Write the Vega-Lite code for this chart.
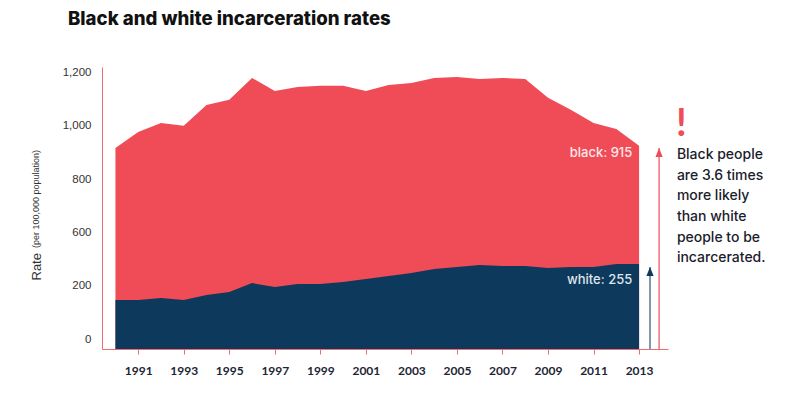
{
  "$schema": "https://vega.github.io/schema/vega-lite/v6.json",
  "autosize": {"type": "none"},
  "width": 566,
  "height": 282,
  "padding": {"left": 102, "top": 67, "right": 122, "bottom": 47},
  "background": "white",
  "config": {"view": {"stroke": null}, "font": "Lato"},
  "title": {
    "text": "Black and white incarceration rates",
    "anchor": "start",
    "frame": "group",
    "dx": -34,
    "offset": 38,
    "font": "Inter",
    "fontSize": 18.6,
    "fontWeight": 800,
    "color": "#111111"
  },
  "datasets": {
    "rates": [
      {"year": 1990, "black": 905, "white": 221},
      {"year": 1991, "black": 977, "white": 221},
      {"year": 1992, "black": 1018, "white": 230},
      {"year": 1993, "black": 1005, "white": 221},
      {"year": 1994, "black": 1099, "white": 243},
      {"year": 1995, "black": 1122, "white": 257},
      {"year": 1996, "black": 1221, "white": 297},
      {"year": 1997, "black": 1162, "white": 279},
      {"year": 1998, "black": 1180, "white": 293},
      {"year": 1999, "black": 1185, "white": 293},
      {"year": 2000, "black": 1185, "white": 302},
      {"year": 2001, "black": 1162, "white": 315},
      {"year": 2002, "black": 1189, "white": 329},
      {"year": 2003, "black": 1198, "white": 342},
      {"year": 2004, "black": 1221, "white": 360},
      {"year": 2005, "black": 1225, "white": 369},
      {"year": 2006, "black": 1216, "white": 378},
      {"year": 2007, "black": 1221, "white": 374},
      {"year": 2008, "black": 1216, "white": 374},
      {"year": 2009, "black": 1131, "white": 365},
      {"year": 2010, "black": 1077, "white": 369},
      {"year": 2011, "black": 1018, "white": 369},
      {"year": 2012, "black": 991, "white": 383},
      {"year": 2013, "black": 915, "white": 383}
    ],
    "arrows": [
      {"year": 2013.48, "value": 369, "group": "white"},
      {"year": 2013.88, "value": 905, "group": "black"}
    ],
    "labels": [
      {"year": 2012.7, "value": 883, "label": "black: 915", "series": "black"},
      {"year": 2012.7, "value": 311, "label": "white: 255", "series": "white"}
    ],
    "note": [
      {"year": 2014.66, "value": 856, "text": "Black people\nare 3.6 times\nmore likely\nthan white\npeople to be\nincarcerated."}
    ],
    "bang": [
      {"year": 2014.86, "value": 959, "text": "!"}
    ],
    "ytitle": [
      {"year": 1986.64, "value": 455, "text": "(per 100,000 population)"}
    ]
  },
  "layer": [
    {
      "data": {"name": "rates"},
      "mark": {"type": "area", "color": "#ef4c57", "opacity": 1},
      "encoding": {
        "x": {
          "field": "year", "type": "quantitative",
          "scale": {"domain": [1989.41, 2014.27], "nice": false, "zero": false},
          "axis": {
            "values": [1991, 1993, 1995, 1997, 1999, 2001, 2003, 2005, 2007, 2009, 2011, 2013],
            "format": "d",
            "grid": false,
            "domainColor": "#f06a72",
            "tickColor": "#f06a72",
            "tickSize": 5,
            "labelFont": "Lato",
            "labelFontSize": 12,
            "labelFontWeight": "bold",
            "labelColor": "#1d2535",
            "labelPadding": 11,
            "labelFlush": false,
            "title": null
          }
        },
        "y": {
          "field": "black", "type": "quantitative",
          "scale": {"domain": [0, 1270], "nice": false},
          "axis": {
            "values": [0, 240, 480, 720, 960, 1200],
            "labelExpr": "datum.value==0?'0':datum.value==240?'200':datum.value==480?'600':datum.value==720?'800':datum.value==960?'1,000':'1,200'",
            "ticks": false,
            "grid": false,
            "domainColor": "#f06a72",
            "labelFont": "Liberation Sans",
            "labelFontSize": 11.5,
            "labelColor": "#333333",
            "labelPadding": 11,
            "labelOffset": -10,
            "title": "Rate",
            "titleFont": "Liberation Sans",
            "titleFontSize": 13,
            "titleFontWeight": "normal",
            "titleColor": "#333333",
            "titleAngle": -90,
            "titleAlign": "left",
            "titleBaseline": "alphabetic",
            "titleX": -62,
            "titleY": 213
          }
        }
      }
    },
    {
      "data": {"name": "rates"},
      "mark": {"type": "area", "color": "#0d3a5c", "opacity": 1},
      "encoding": {
        "x": {"field": "year", "type": "quantitative"},
        "y": {"field": "white", "type": "quantitative"}
      }
    },
    {
      "data": {"name": "arrows"},
      "mark": {"type": "rule", "strokeWidth": 1.5},
      "encoding": {
        "x": {"field": "year", "type": "quantitative"},
        "y": {"field": "value", "type": "quantitative"},
        "y2": {"datum": 0},
        "color": {"field": "group", "type": "nominal", "scale": {"domain": ["black", "white"], "range": ["#f0737b", "#5a7590"]}, "legend": null}
      }
    },
    {
      "data": {"name": "arrows"},
      "mark": {"type": "point", "shape": "M0,0L-0.8,2L0.8,2Z", "size": 81, "filled": true, "opacity": 1},
      "encoding": {
        "x": {"field": "year", "type": "quantitative"},
        "y": {"field": "value", "type": "quantitative"},
        "fill": {"field": "group", "type": "nominal", "scale": {"domain": ["black", "white"], "range": ["#ef4c57", "#0d3a5c"]}, "legend": null}
      }
    },
    {
      "data": {"name": "labels"},
      "mark": {"type": "text", "align": "right", "baseline": "middle", "font": "Inter", "fontSize": 13, "fontWeight": 500, "opacity": 1},
      "encoding": {
        "x": {"field": "year", "type": "quantitative"},
        "y": {"field": "value", "type": "quantitative"},
        "text": {"field": "label", "type": "nominal"},
        "color": {"condition": {"test": "datum.series === 'black'", "value": "#fde8ea"}, "value": "#dfe4ea"}
      }
    },
    {
      "data": {"name": "note"},
      "mark": {"type": "text", "align": "left", "baseline": "alphabetic", "font": "Inter", "fontSize": 14, "fontWeight": 500, "lineBreak": "\n", "lineHeight": 20.7, "color": "#1a1d2b"},
      "encoding": {
        "x": {"field": "year", "type": "quantitative"},
        "y": {"field": "value", "type": "quantitative"},
        "text": {"field": "text", "type": "nominal"}
      }
    },
    {
      "data": {"name": "bang"},
      "mark": {"type": "text", "align": "center", "baseline": "alphabetic", "font": "Lato", "fontSize": 38, "fontWeight": "bold", "color": "#ef4c57"},
      "encoding": {
        "x": {"field": "year", "type": "quantitative"},
        "y": {"field": "value", "type": "quantitative"},
        "text": {"field": "text", "type": "nominal"}
      }
    },
    {
      "data": {"name": "ytitle"},
      "mark": {"type": "text", "align": "left", "baseline": "alphabetic", "angle": 270, "font": "Liberation Sans", "fontSize": 9, "color": "#333333"},
      "encoding": {
        "x": {"field": "year", "type": "quantitative"},
        "y": {"field": "value", "type": "quantitative"},
        "text": {"field": "text", "type": "nominal"}
      }
    }
  ]
}
